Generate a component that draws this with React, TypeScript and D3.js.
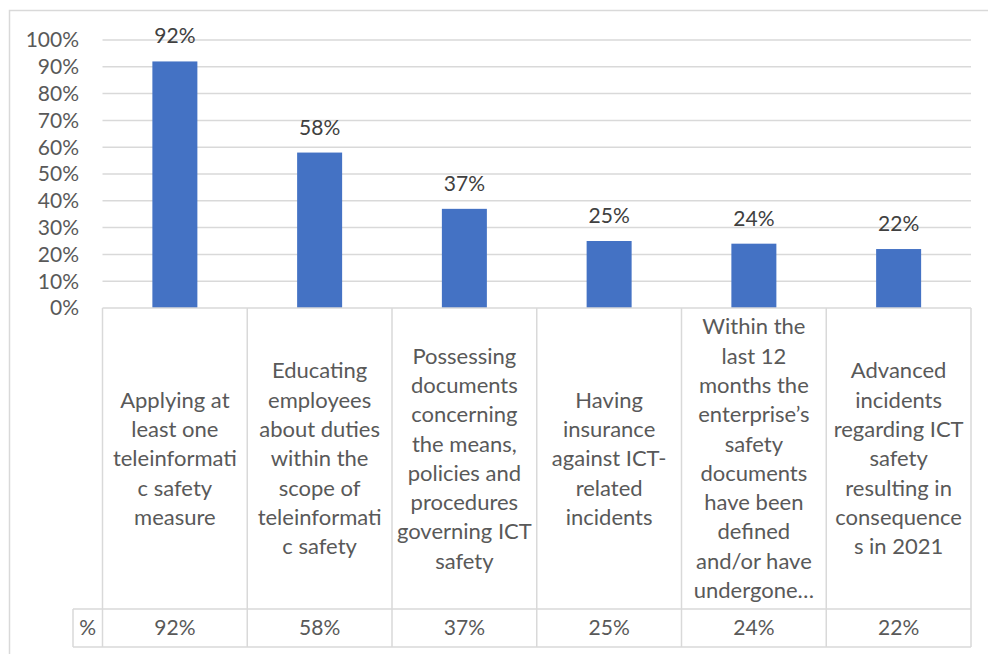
import React from "react";
import * as d3 from "d3";

const categories: string[][] = [
  ["Applying at", "least one", "teleinformati", "c safety", "measure"],
  ["Educating", "employees", "about duties", "within the", "scope of", "teleinformati", "c safety"],
  ["Possessing", "documents", "concerning", "the means,", "policies and", "procedures", "governing ICT", "safety"],
  ["Having", "insurance", "against ICT-", "related", "incidents"],
  ["Within the", "last 12", "months the", "enterprise\u2019s", "safety", "documents", "have been", "defined", "and/or have", "undergone\u2026"],
  ["Advanced", "incidents", "regarding ICT", "safety", "resulting in", "consequence", "s in 2021"],
];
const values: number[] = [0.92, 0.58, 0.37, 0.25, 0.24, 0.22];
const yTicks: number[] = [0, 0.1, 0.2, 0.3, 0.4, 0.5, 0.6, 0.7, 0.8, 0.9, 1.0];
const seriesName = "%";

const W = 988;
const H = 654;
const plotLeft = 102.5;
const plotRight = 971;
const yZero = 308;
const yTop = 40;
const catBottom = 609;
const tableBottom = 647;
const legendLeft = 73;
const barWidth = 45;
const font = "Lato, 'Open Sans', sans-serif";
const gridColor = "#d9d9d9";
const textColor = "#595959";
const barColor = "#4472C4";
const fs = 21;
const catFs = 22;
const lineH = 29.3;

export default function App() {
  const idx = categories.map((_, i) => String(i));
  const x = d3.scaleBand<string>().domain(idx).range([plotLeft, plotRight]).padding(0);
  const y = d3.scaleLinear().domain([0, 1]).range([yZero, yTop]);
  const pct = d3.format(".0%");
  const catMid = (yZero + catBottom) / 2;

  return (
    <svg width={W} height={H} style={{ position: "absolute", left: 0, top: 0, background: "#fff" }}>
      <rect x={9.5} y={10.5} width={W + 20} height={H + 20} fill="#fff" stroke={gridColor} strokeWidth={1.5} />
      {yTicks.map((t) => (
        <g key={t}>
          {t > 0 && (
            <line x1={plotLeft} x2={plotRight} y1={y(t)} y2={y(t)} stroke={gridColor} strokeWidth={1.5} />
          )}
          <text x={79} y={y(t)} dy="0.35em" textAnchor="end" fontFamily={font} fontSize={fs} fill={textColor}>
            {pct(t)}
          </text>
        </g>
      ))}
      {values.map((v, i) => {
        const cx = (x(String(i)) as number) + x.bandwidth() / 2;
        return (
          <g key={i}>
            <rect x={cx - barWidth / 2} y={y(v)} width={barWidth} height={yZero - y(v)} fill={barColor} />
            <text x={cx} y={y(v) - 18} textAnchor="middle" fontFamily={font} fontSize={fs} fill="#404040">
              {pct(v)}
            </text>
          </g>
        );
      })}
      <line x1={plotLeft} x2={plotRight} y1={yZero} y2={yZero} stroke={gridColor} strokeWidth={1.5} />
      <line x1={legendLeft} x2={plotRight} y1={catBottom} y2={catBottom} stroke={gridColor} strokeWidth={1.5} />
      <line x1={legendLeft} x2={plotRight} y1={tableBottom} y2={tableBottom} stroke={gridColor} strokeWidth={1.5} />
      <line x1={legendLeft} x2={legendLeft} y1={catBottom} y2={tableBottom} stroke={gridColor} strokeWidth={1.5} />
      {idx.concat(["end"]).map((k, i) => {
        const xx = k === "end" ? plotRight : (x(k) as number);
        return <line key={i} x1={xx} x2={xx} y1={yZero} y2={tableBottom} stroke={gridColor} strokeWidth={1.5} />;
      })}
      <text x={(legendLeft + plotLeft) / 2} y={(catBottom + tableBottom) / 2} dy="0.35em" textAnchor="middle" fontFamily={font} fontSize={fs} fill={textColor}>
        {seriesName}
      </text>
      {categories.map((lines, i) => {
        const cx = (x(String(i)) as number) + x.bandwidth() / 2;
        const start = catMid - ((lines.length - 1) * lineH) / 2;
        return (
          <g key={i}>
            {lines.map((ln, j) => (
              <text key={j} x={cx} y={start + j * lineH} dy="0.35em" textAnchor="middle" fontFamily={font} fontSize={catFs} fill={textColor}>
                {ln}
              </text>
            ))}
            <text x={cx} y={(catBottom + tableBottom) / 2} dy="0.35em" textAnchor="middle" fontFamily={font} fontSize={fs} fill={textColor}>
              {pct(values[i])}
            </text>
          </g>
        );
      })}
    </svg>
  );
}
